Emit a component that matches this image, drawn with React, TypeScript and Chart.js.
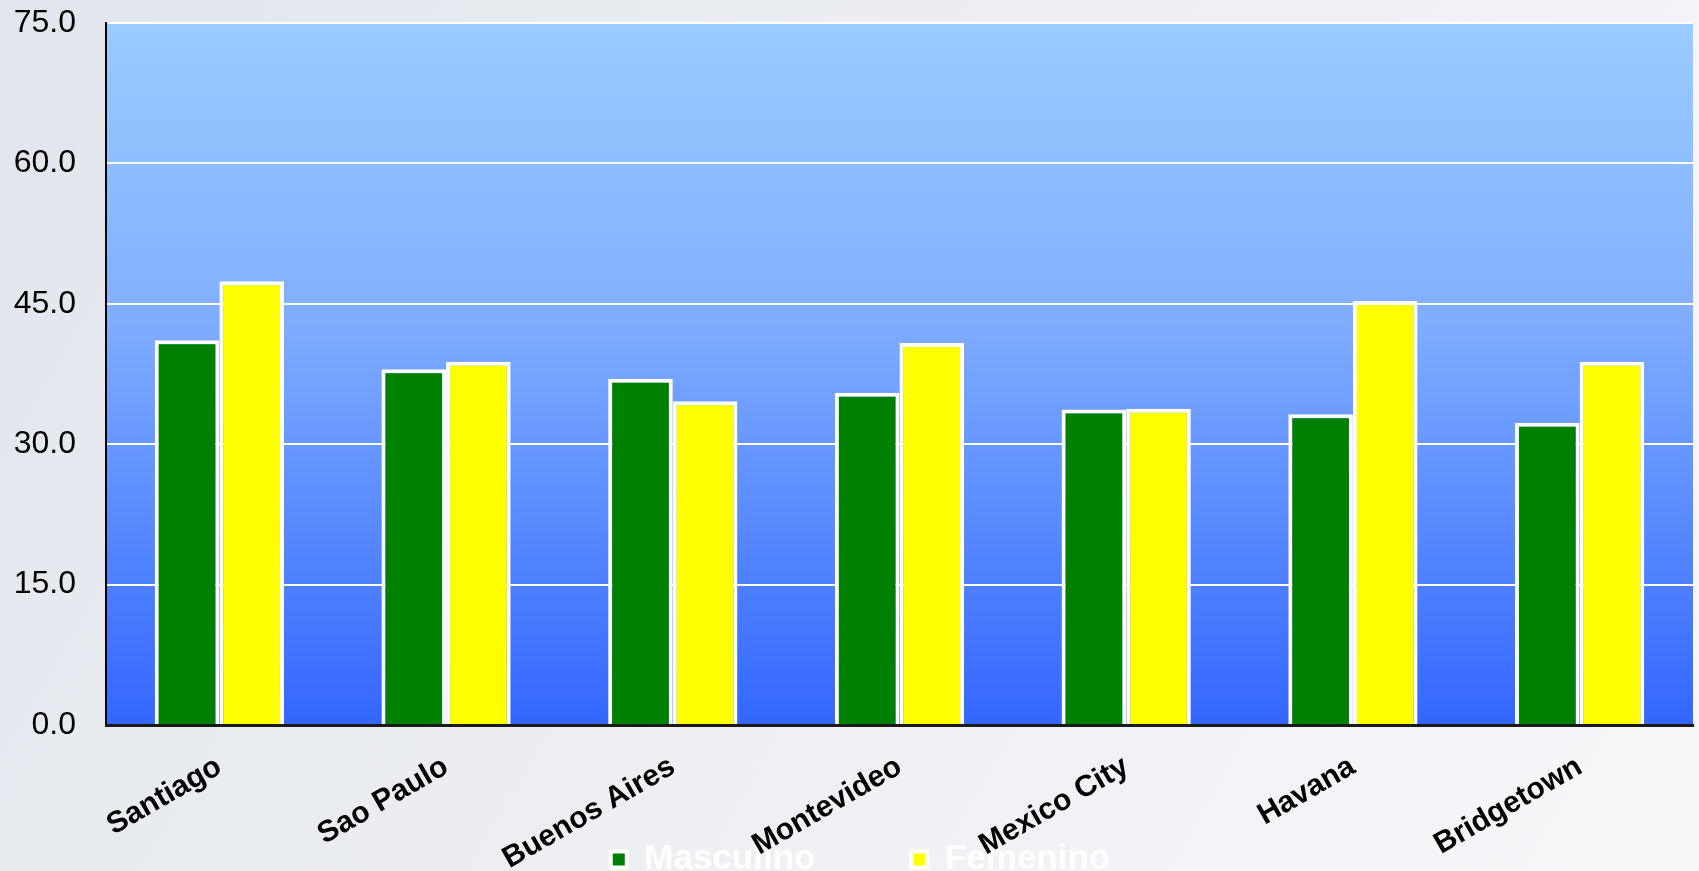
import React, { useEffect, useRef } from "react";
import { Chart, registerables } from "chart.js";

Chart.register(...registerables);

const categories = ["Santiago", "Sao Paulo", "Buenos Aires", "Montevideo", "Mexico City", "Havana", "Bridgetown"];
const seriesNames = ["Masculino", "Femenino"];
const masculino = [41.1, 38.0, 37.0, 35.5, 33.7, 33.2, 32.3];
const femenino = [47.4, 38.8, 34.6, 40.8, 33.8, 45.3, 38.8];
const yMin = 0;
const yMax = 75;
const yStep = 15;

const FONT = "'Liberation Sans', Arial, sans-serif";

const plotBackground = {
  id: "plotBackground",
  beforeDraw(chart: any) {
    const { ctx, chartArea: a } = chart;
    if (!a) return;
    const g = ctx.createLinearGradient(0, a.top, 0, a.bottom);
    g.addColorStop(0, "#99CCFF");
    g.addColorStop(0.4, "#82B0FF");
    g.addColorStop(1, "#3366FF");
    ctx.save();
    ctx.fillStyle = g;
    ctx.fillRect(a.left, a.top, a.right - a.left, a.bottom - a.top);
    ctx.restore();
  },
};

// The legend in the original sits over the lower part of the rotated category labels.
const legendPlacement = {
  id: "legendPlacement",
  afterLayout(chart: any) {
    const lg = chart.legend;
    if (!lg) return;
    const h = lg.height;
    lg.top = 746;
    lg.bottom = 746 + h;
    lg.left += 14;
    lg.right += 14;
  },
};

export default function App() {
  const ref = useRef<HTMLCanvasElement | null>(null);

  useEffect(() => {
    if (!ref.current) return;
    const chart = new Chart(ref.current, {
      type: "bar",
      data: {
        labels: categories,
        datasets: [
          {
            label: seriesNames[0],
            data: masculino,
            backgroundColor: "#008000",
            borderColor: "#FFFFFF",
            borderWidth: 4,
            categoryPercentage: 0.57,
            barPercentage: 1.0,
          },
          {
            label: seriesNames[1],
            data: femenino,
            backgroundColor: "#FFFF00",
            borderColor: "#FFFFFF",
            borderWidth: 4,
            categoryPercentage: 0.57,
            barPercentage: 1.0,
          },
        ],
      },
      options: {
        animation: false,
        responsive: false,
        maintainAspectRatio: false,
        layout: { padding: { top: 23, right: 6, left: 0, bottom: 0 } },
        plugins: {
          legend: {
            position: "bottom",
            labels: {
              boxWidth: 16,
              boxHeight: 16,
              padding: 96,
              color: "#FFFFFF",
              font: { family: FONT, size: 35, weight: "bold" },
            },
          },
          tooltip: { enabled: false },
        },
        scales: {
          x: {
            grid: { display: false, drawTicks: false },
            border: { display: true, color: "#1a1a1a", width: 3 },
            ticks: {
              color: "#000000",
              autoSkip: false,
              minRotation: 30,
              maxRotation: 30,
              padding: 24,
              font: { family: FONT, size: 30, weight: "bold" },
            },
            afterFit: (s: any) => {
              s.height = 145;
            },
          },
          y: {
            min: yMin,
            max: yMax,
            grid: { color: "#FFFFFF", lineWidth: 2, drawTicks: false },
            border: { display: true, color: "#000000", width: 2 },
            ticks: {
              stepSize: yStep,
              color: "#000000",
              padding: 30,
              font: { family: FONT, size: 32 },
              callback: (v: any) => Number(v).toFixed(1),
            },
            afterFit: (s: any) => {
              s.width = 106;
              s.paddingTop = 0;
              s.paddingBottom = 0;
            },
          },
        },
      },
      plugins: [plotBackground, legendPlacement],
    });
    return () => chart.destroy();
  }, []);

  return (
    <div
      style={{
        position: "fixed",
        left: 0,
        top: 0,
        width: 1699,
        height: 871,
        overflow: "hidden",
        background: "linear-gradient(120deg, #e2e6ec 0%, #eceef2 45%, #f6f7f9 100%)",
      }}
    >
      <canvas ref={ref} width={1699} height={1011} style={{ display: "block" }} />
    </div>
  );
}
